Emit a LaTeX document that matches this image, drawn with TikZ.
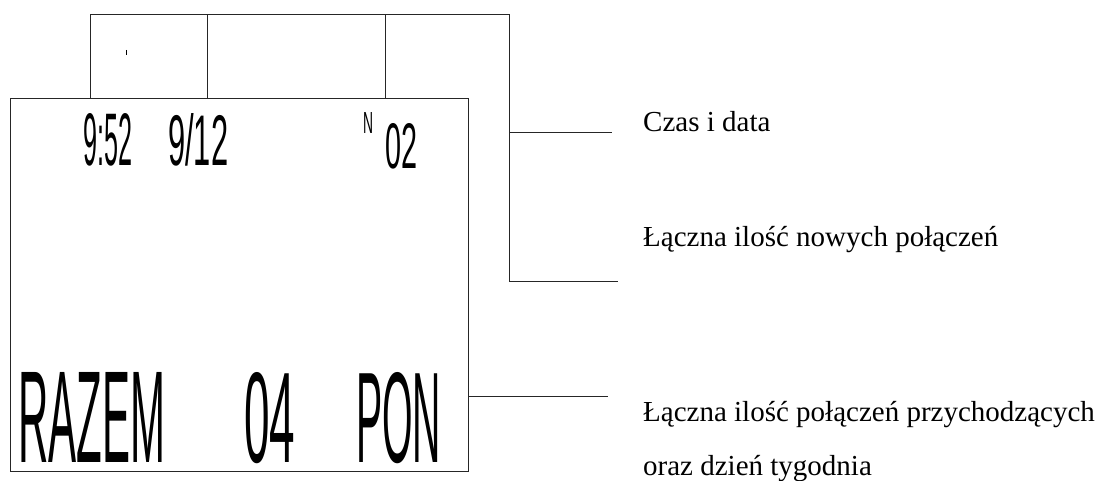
\documentclass[tikz,border=0pt]{standalone}
\usepackage{fontspec}
\usepackage{graphicx}
\setmainfont{Liberation Serif}
\newfontfamily\lcdfont{Liberation Sans}
\tikzset{
  wire/.style={draw=black!85, line width=1pt},
  lbl/.style={anchor=base west, inner sep=0pt, font=\fontsize{29}{29}\selectfont},
  lcd/.style={anchor=north west, inner sep=0pt},
  panel/.style={draw=black!85, line width=1pt, inner sep=0pt}
}
\newcommand{\lcdtxt}[3]{\resizebox{#1pt}{#2pt}{\lcdfont #3}}
\begin{document}
\begin{tikzpicture}[x=1pt,y=-1pt]
\useasboundingbox (0,0) rectangle (1103,481);
% LCD panel
\node[panel, minimum width=458pt, minimum height=373pt, anchor=north west] (lcd) at (10,98) {};
% display texts
\node[lcd] (time) at (83,113) {\lcdtxt{49}{52}{9:52}};
\node[lcd] (date) at (168,113) {\lcdtxt{60}{52}{9/12}};
\node[lcd] (nmark) at (363,112) {\lcdtxt{10}{21}{N}};
\node[lcd] (newc) at (385,123) {\lcdtxt{32}{45}{02}};
\node[lcd] (razem) at (18,372) {\lcdtxt{147}{90}{RAZEM}};
\node[lcd] (total) at (244,372) {\lcdtxt{51}{90}{04}};
\node[lcd] (day) at (356,372) {\lcdtxt{85}{90}{PON}};
% labels
\node[lbl] (l1) at (643,132) {Czas i data};
\node[lbl] (l2) at (643,247) {Łączna ilość nowych połączeń};
\node[lbl] (l3) at (643,421) {Łączna ilość połączeń przychodzących};
\node[lbl] (l4) at (643,475) {oraz dzień tygodnia};
% bracket coordinates
\coordinate (b1) at (90,98);
\coordinate (b2) at (207,98);
\coordinate (b3) at (385,98);
\coordinate (t1) at (90,15);
\coordinate (t2) at (207,15);
\coordinate (t3) at (385,15);
\coordinate (t4) at (509,15);
\coordinate (f1) at (509,133);
\coordinate (f1e) at (612,133);
\coordinate (f2) at (509,281);
\coordinate (f2e) at (618,281);
\coordinate (p1) at (lcd.east |- 0,396);
\coordinate (p1e) at (608,396);
% connectors
\draw[wire] (b1) -- (t1) -- (t4) -- (f2) -- (f2e);
\draw[wire] (b2) -- (t2);
\draw[wire] (b3) -- (t3);
\draw[wire] (f1) -- (f1e);
\draw[wire] (p1) -- (p1e);
% stray mark
\draw[black, line width=0.8pt] (126,50) -- (126,55);
\end{tikzpicture}
\end{document}
